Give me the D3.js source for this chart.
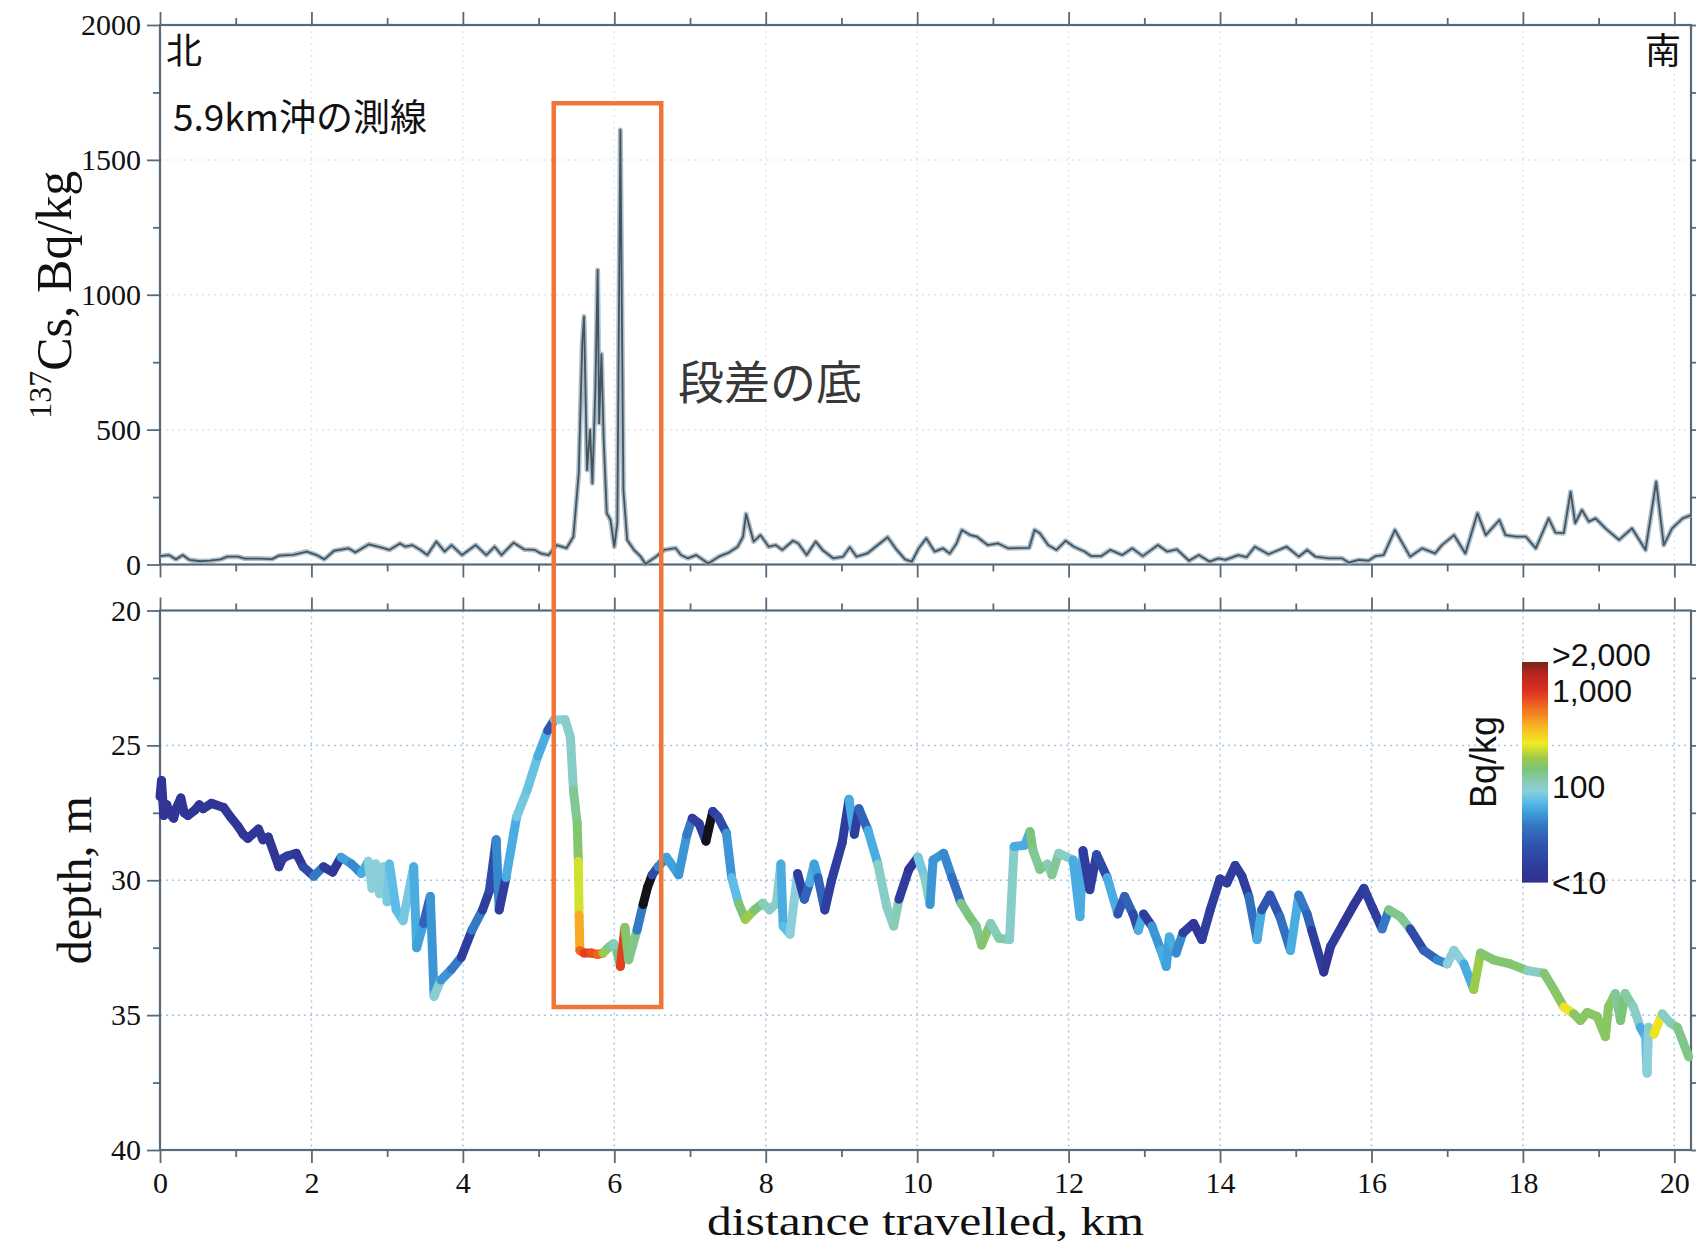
<!DOCTYPE html>
<html>
<head>
<meta charset="utf-8">
<script src="https://cdn.jsdelivr.net/npm/d3@7"></script>
<style>
  html, body { margin: 0; padding: 0; background: #fff; }
  svg { display: block; }
</style>
</head>
<body>
<svg id="chart" width="1696" height="1244"></svg>
<script>
// ---------------------------------------------------------------
// Survey line 5.9 km offshore: 137Cs in seabed sediment (top) and
// water depth along the track coloured by Cs concentration (bottom)
// ---------------------------------------------------------------

// 137Cs concentration along the track (km, Bq/kg)
const csKm = [0.00,0.12,0.21,0.30,0.39,0.53,0.66,0.80,0.89,1.03,1.12,1.30,1.48,1.57,1.76,1.94,2.07,2.17,2.30,2.49,
  2.58,2.76,2.94,3.03,3.17,3.24,3.33,3.44,3.53,3.65,3.76,3.85,3.99,4.17,4.31,4.42,4.51,4.67,4.81,4.95,
  5.03,5.13,5.24,5.37,5.46,5.53,5.577,5.60,5.64,5.68,5.71,5.75,5.78,5.80,5.83,5.86,5.90,5.95,6.00,6.04,
  6.08,6.12,6.17,6.26,6.35,6.41,6.55,6.66,6.81,6.88,6.97,7.08,7.24,7.38,7.51,7.63,7.70,7.74,7.84,7.93,
  8.04,8.13,8.22,8.36,8.43,8.54,8.66,8.75,8.89,9.02,9.11,9.20,9.34,9.48,9.61,9.73,9.84,9.93,10.02,10.12,
  10.23,10.34,10.43,10.52,10.59,10.70,10.79,10.93,11.07,11.20,11.48,11.55,11.62,11.73,11.84,11.96,12.07,12.21,12.30,12.43,
  12.55,12.71,12.84,12.98,13.18,13.30,13.43,13.59,13.72,13.86,13.98,14.07,14.24,14.35,14.46,14.64,14.88,15.04,15.15,15.26,
  15.43,15.61,15.70,15.83,15.96,16.05,16.16,16.31,16.51,16.67,16.84,16.93,17.09,17.24,17.40,17.51,17.69,17.77,17.91,18.04,
  18.17,18.34,18.43,18.54,18.63,18.69,18.78,18.87,18.96,19.09,19.27,19.44,19.62,19.76,19.86,19.97,20.11,20.22];
const csBq = [31,35,19,35,17,12,14,19,29,29,22,22,20,33,36,48,35,19,51,60,
  45,75,62,54,78,66,72,54,35,85,48,72,35,72,35,66,35,81,56,54,
  41,35,72,61,103,338,821,919,350,499,301,647,1092,524,780,461,191,165,66,154,
  1611,276,91,54,29,2,29,54,61,35,23,35,4,29,44,66,103,187,85,109,
  66,72,54,88,78,35,85,54,23,29,64,29,41,72,101,54,19,11,60,97,
  48,60,41,78,128,109,103,72,78,60,62,128,116,72,54,88,66,48,31,31,
  54,35,60,31,72,48,56,14,35,11,23,17,35,27,66,38,66,29,54,29,
  23,23,7,17,14,31,35,128,29,60,41,72,109,41,190,109,165,109,103,103,
  60,171,118,116,270,153,202,159,171,134,91,134,54,307,72,134,171,183];

// Depth track (km, m) and the Cs level measured at each track point (Bq/kg)
const trackKm = [0.00,0.02,0.05,0.09,0.12,0.18,0.22,0.275,0.32,0.37,0.46,0.52,0.57,0.68,0.84,0.93,1.03,1.10,1.16,1.30,1.36,1.43,1.57,1.62,1.68,1.80,1.89,
  2.03,2.16,2.28,2.39,2.53,2.66,2.75,2.80,2.85,2.90,2.95,3.00,3.03,3.12,3.21,3.35,3.39,3.48,3.57,3.62,
  3.71,3.85,3.98,4.12,4.26,4.35,4.44,4.48,4.57,4.71,4.85,4.99,5.12,5.21,5.35,5.42,5.46,5.51,5.525,5.535,5.545,
  5.60,5.70,5.78,5.85,5.92,5.99,6.04,6.08,6.14,6.19,6.30,6.38,6.44,6.50,6.58,6.69,6.85,6.96,7.03,7.12,
  7.21,7.30,7.37,7.48,7.55,7.64,7.73,7.85,7.96,8.05,8.14,8.20,8.23,8.32,8.42,8.51,8.58,8.64,8.69,8.78,
  8.87,9.01,9.10,9.17,9.23,9.35,9.48,9.60,9.69,9.76,9.89,10.01,10.10,10.17,10.21,10.35,10.46,10.58,10.69,10.78,
  10.85,10.97,11.08,11.22,11.28,11.42,11.49,11.53,11.62,11.72,11.78,11.87,12.06,12.15,12.19,12.28,12.37,12.51,12.65,12.74,
  12.85,12.92,12.99,13.10,13.22,13.29,13.33,13.42,13.51,13.65,13.76,13.87,14.00,14.09,14.20,14.29,14.38,14.49,14.55,14.66,
  14.79,14.93,15.04,15.15,15.21,15.37,15.46,15.63,15.77,15.90,16.01,16.14,16.23,16.38,16.51,16.69,16.87,17.00,17.09,17.22,
  17.35,17.44,17.61,17.83,18.06,18.28,18.41,18.54,18.67,18.76,18.85,18.98,19.09,19.13,19.22,19.29,19.35,19.46,19.55,19.62,
  19.64,19.66,19.73,19.84,19.95,20.04,20.19];
const trackDepth = [26.9,26.3,27.6,27.2,27.5,27.7,27.3,26.95,27.5,27.6,27.4,27.2,27.35,27.15,27.3,27.65,28.0,28.3,28.45,28.1,28.5,28.4,29.5,29.2,29.1,29.0,29.5,
  29.85,29.5,29.7,29.15,29.4,29.75,29.3,30.3,29.4,30.5,29.5,30.8,29.4,31.1,31.5,29.5,32.5,31.6,30.6,34.3,
  33.7,33.3,32.85,31.85,31.1,30.4,28.5,31.1,29.9,27.65,26.65,25.4,24.45,24.05,24.05,24.7,26.65,27.9,29.3,31.3,32.6,
  32.7,32.7,32.75,32.7,32.5,32.35,32.7,33.2,31.75,32.95,31.85,30.9,30.25,29.8,29.5,29.15,29.8,28.3,27.7,27.9,
  28.55,27.45,27.65,28.25,29.9,30.85,31.45,31.1,30.85,31.1,30.85,29.4,31.7,32.0,29.75,30.7,30.1,29.4,29.9,31.1,
  30.0,28.6,27.0,28.3,27.35,28.15,29.4,31.0,31.7,30.7,29.6,29.15,29.9,30.9,29.25,29.0,29.9,30.85,31.35,31.7,
  32.4,31.6,32.15,32.2,28.75,28.7,28.2,28.9,29.6,29.4,29.8,29.0,29.25,31.35,28.9,30.35,29.05,29.9,31.25,30.6,
  31.25,31.85,31.25,31.7,32.6,33.2,32.1,32.7,31.95,31.6,32.2,31.1,29.95,30.1,29.45,29.85,30.6,32.2,31.1,30.55,
  31.35,32.6,30.55,31.25,31.85,33.4,32.45,31.6,30.9,30.3,31.0,31.8,31.1,31.35,31.8,32.6,32.95,33.1,32.6,33.1,
  34.05,32.7,32.95,33.1,33.35,33.45,34.05,34.7,34.95,35.2,34.9,35.05,35.8,34.7,34.2,35.2,34.2,34.7,35.45,35.8,
  37.15,35.45,35.7,34.95,35.3,35.45,36.55];
const trackBq = [12,12,12,12,12,12,12,12,12,12,12,12,12,12,12,12,12,12,12,12,12,12,12,15,15,12,20,
  40,14,12,55,45,60,90,90,90,95,90,80,70,70,80,60,55,30,50,95,
  50,40,15,40,15,20,45,15,60,80,75,60,25,90,100,100,130,160,250,450,700,
  900,800,700,200,130,110,150,900,160,140,40,4,4,20,45,55,50,40,15,15,
  4,15,20,50,70,150,200,150,110,100,100,60,70,90,15,30,60,55,30,15,
  15,15,60,15,30,60,100,100,110,15,12,80,100,50,50,45,35,140,150,130,
  160,110,120,100,60,60,150,130,140,110,130,100,60,60,15,15,20,60,25,30,
  20,60,15,50,60,55,60,45,15,12,15,15,15,15,15,15,35,60,25,25,
  35,60,40,30,15,12,15,12,12,15,15,40,140,130,20,30,45,90,90,60,
  200,160,160,160,100,160,170,300,170,170,170,170,170,170,130,150,120,100,60,70,
  90,100,300,100,110,140,170];

// Axis ticks
const kmTicks = [0, 2, 4, 6, 8, 10, 12, 14, 16, 18, 20];
const kmMinorTicks = [1, 3, 5, 7, 9, 11, 13, 15, 17, 19];
const csTicks = [0, 500, 1000, 1500, 2000];
const csMinorTicks = [250, 750, 1250, 1750];
const depthTicks = [20, 25, 30, 35, 40];
const depthMinorTicks = [22.5, 27.5, 32.5, 37.5];

// Concentration colour map (Bq/kg -> colour)
const colorStopBq = [4, 10, 15, 25, 40, 55, 70, 90, 115, 150, 200, 280, 400, 550, 750, 1000, 1500, 2000];
const colorStopHex = ["#121218", "#33318f", "#2e3d9e", "#2f55b0", "#3479c6", "#3fa2dc", "#5dbde6", "#8ccfda",
  "#86cbb0", "#7cc47a", "#9ccb48", "#eeec22", "#f8bd22", "#f58a22", "#ee5a20", "#dd3020", "#b82420", "#7a2418"];
const colorbarValues = [2000, 1000, 100, 10];
const colorbarLabels = [">2,000", "1,000", "100", "<10"];

// Highlighted step-bottom zone (km range, Cs level of the top edge, depth of the bottom edge)
const stepZoneKm = [5.2, 6.62];
const stepZoneTopBq = 1710;
const stepZoneBottomDepth = 34.7;

// ---------------- layout ----------------
const plotLeft = 160, plotRight = 1691;
const topY0 = 25, topY1 = 564.5;
const botY0 = 610.5, botY1 = 1150;
const frameColor = "#566a7b";
const serif = "'Liberation Serif', 'Times New Roman', serif";
const sans = "'Liberation Sans', Arial, sans-serif";
const cjk = "'Noto Sans CJK JP', 'Noto Sans', sans-serif";

const svg = d3.select("#chart");

const x = d3.scaleLinear().domain([0, 20.22]).range([plotLeft, plotRight]);
const yCs = d3.scaleLinear().domain([0, 2000]).range([topY1, topY0]);
const yDepth = d3.scaleLinear().domain([20, 40]).range([botY0, botY1]);
const bqColor = d3.scaleLog().domain(colorStopBq).range(colorStopHex)
  .interpolate(d3.interpolateRgb).clamp(true);

// ---------------- grids ----------------
function grid(yScale, yVals, y0, y1, color) {
  const g = svg.append("g").attr("stroke", color).attr("stroke-width", 1.5)
    .attr("stroke-dasharray", "2,4").attr("fill", "none");
  g.selectAll("line.v").data(kmTicks.slice(1)).join("line")
    .attr("x1", d => x(d)).attr("x2", d => x(d)).attr("y1", y0).attr("y2", y1);
  g.selectAll("line.h").data(yVals).join("line")
    .attr("x1", plotLeft).attr("x2", plotRight)
    .attr("y1", d => yScale(d)).attr("y2", d => yScale(d));
}
grid(yCs, [500, 1000, 1500], topY0, topY1, "#dfe7ee");
grid(yDepth, [25, 30, 35], botY0, botY1, "#a9c6e2");

// ---------------- axes ----------------
function styleAxis(sel) {
  sel.select(".domain").remove();
  sel.selectAll(".tick line").attr("stroke", frameColor).attr("stroke-width", 1.8);
  sel.selectAll(".tick text").attr("fill", "#111").attr("font-family", serif).attr("font-size", 30);
}
function panelAxes(yScale, majors, minors, y0, y1, withXLabels) {
  const add = (axis, tx, ty) => svg.append("g").attr("transform", `translate(${tx},${ty})`).call(axis).call(styleAxis);
  // left
  add(d3.axisLeft(yScale).tickValues(majors).tickSize(13).tickPadding(6).tickFormat(d3.format("d")), plotLeft, 0);
  add(d3.axisLeft(yScale).tickValues(minors).tickSize(7).tickFormat(""), plotLeft, 0);
  // right
  add(d3.axisRight(yScale).tickValues(majors).tickSize(13).tickFormat(""), plotRight, 0);
  add(d3.axisRight(yScale).tickValues(minors).tickSize(7).tickFormat(""), plotRight, 0);
  // top
  add(d3.axisTop(x).tickValues(kmTicks).tickSize(13).tickFormat(""), 0, y0);
  add(d3.axisTop(x).tickValues(kmMinorTicks).tickSize(7).tickFormat(""), 0, y0);
  // bottom
  add(d3.axisBottom(x).tickValues(kmTicks).tickSize(13).tickPadding(9)
    .tickFormat(withXLabels ? d3.format("d") : ""), 0, y1);
  add(d3.axisBottom(x).tickValues(kmMinorTicks).tickSize(7).tickFormat(""), 0, y1);
  svg.append("rect").attr("x", plotLeft).attr("y", y0)
    .attr("width", plotRight - plotLeft).attr("height", y1 - y0)
    .attr("fill", "none").attr("stroke", frameColor).attr("stroke-width", 2.2);
}
panelAxes(yCs, csTicks, csMinorTicks, topY0, topY1, false);
panelAxes(yDepth, depthTicks, depthMinorTicks, botY0, botY1, true);

// ---------------- top: Cs profile ----------------
const csPoints = csKm.map((k, i) => [k, csBq[i]]);
const csLine = d3.line().x(d => x(d[0])).y(d => yCs(d[1]));
svg.append("path").datum(csPoints).attr("d", csLine)
  .attr("fill", "none").attr("stroke", "#8aa3b5").attr("stroke-width", 5)
  .attr("stroke-opacity", 0.7).attr("stroke-linejoin", "round");
svg.append("path").datum(csPoints).attr("d", csLine)
  .attr("fill", "none").attr("stroke", "#44545f").attr("stroke-width", 1.8)
  .attr("stroke-linejoin", "round");

// ---------------- bottom: depth track coloured by Cs ----------------
const segs = d3.range(trackKm.length - 1).map(i => ({
  x1: trackKm[i], y1: trackDepth[i], x2: trackKm[i + 1], y2: trackDepth[i + 1], bq: trackBq[i]
}));
svg.append("g").selectAll("line").data(segs).join("line")
  .attr("x1", d => x(d.x1)).attr("y1", d => yDepth(d.y1))
  .attr("x2", d => x(d.x2)).attr("y2", d => yDepth(d.y2))
  .attr("stroke", d => bqColor(d.bq)).attr("stroke-width", 9)
  .attr("stroke-linecap", "round");

// ---------------- colour bar ----------------
const cb = d3.scaleLog().domain([10, 2000]).range([882, 662]);
const cbX = 1522, cbW = 26;
svg.append("g").selectAll("rect").data(d3.range(662, 882)).join("rect")
  .attr("x", cbX).attr("y", d => d).attr("width", cbW).attr("height", 1.6)
  .attr("fill", d => bqColor(cb.invert(d + 0.5)));
svg.append("g").selectAll("text").data(colorbarValues).join("text")
  .attr("x", cbX + cbW + 4).attr("y", d => cb(d) + (d === 2000 ? -8 : 0)).attr("dy", "0.36em")
  .attr("font-family", sans).attr("font-size", 32).attr("fill", "#111")
  .text((d, i) => colorbarLabels[i]);
svg.append("text")
  .attr("transform", `translate(1496,${(cb(10) + cb(2000)) / 2 - 10}) rotate(-90)`)
  .attr("text-anchor", "middle").attr("font-family", sans).attr("font-size", 36).attr("fill", "#111")
  .text("Bq/kg");

// ---------------- highlighted zone ----------------
svg.append("rect")
  .attr("x", x(stepZoneKm[0])).attr("y", yCs(stepZoneTopBq))
  .attr("width", x(stepZoneKm[1]) - x(stepZoneKm[0]))
  .attr("height", yDepth(stepZoneBottomDepth) - yCs(stepZoneTopBq))
  .attr("fill", "none").attr("stroke", "#ef7538").attr("stroke-width", 4.5);

// ---------------- annotations ----------------
svg.append("text").attr("x", 166).attr("y", 64).attr("font-family", cjk).attr("font-size", 36)
  .attr("fill", "#111").text("北");
svg.append("text").attr("x", 1681).attr("y", 64).attr("text-anchor", "end").attr("font-family", cjk)
  .attr("font-size", 36).attr("fill", "#111").text("南");
svg.append("text").attr("x", 173).attr("y", 131).attr("font-family", cjk).attr("font-size", 37)
  .attr("fill", "#111").text("5.9km沖の測線");
svg.append("text").attr("x", 678).attr("y", 399).attr("font-family", cjk).attr("font-size", 46)
  .attr("fill", "#383838").text("段差の底");

// ---------------- axis titles ----------------
const csTitle = svg.append("text")
  .attr("transform", `translate(71,${(topY0 + topY1) / 2}) rotate(-90)`)
  .attr("text-anchor", "middle").attr("font-family", serif).attr("font-size", 50).attr("fill", "#111");
csTitle.append("tspan").attr("font-size", 32).attr("dy", -20).text("137");
csTitle.append("tspan").attr("dy", 20).text("Cs, Bq/kg");

svg.append("text")
  .attr("transform", `translate(91,${(botY0 + botY1) / 2}) rotate(-90)`)
  .attr("text-anchor", "middle").attr("font-family", serif).attr("font-size", 48).attr("fill", "#111")
  .text("depth, m");

svg.append("text").attr("x", (plotLeft + plotRight) / 2).attr("y", 1235)
  .attr("text-anchor", "middle").attr("font-family", serif).attr("font-size", 40)
  .attr("textLength", 437).attr("lengthAdjust", "spacingAndGlyphs").attr("fill", "#111")
  .text("distance travelled, km");
</script>
</body>
</html>
